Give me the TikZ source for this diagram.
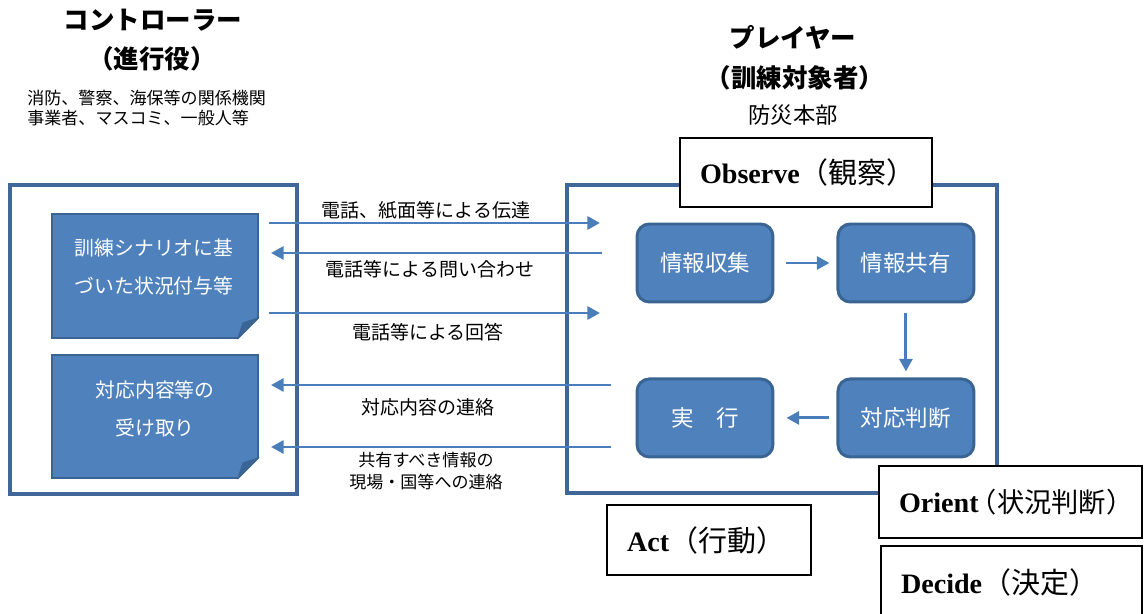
\documentclass[tikz,border=0pt]{standalone}
\usepackage{fontspec}
\setmainfont{Noto Sans CJK JP}
\newfontfamily\tnr{Liberation Serif}
\usetikzlibrary{arrows.meta,positioning}

\definecolor{boxblue}{HTML}{4F81BD}
\definecolor{edgeblue}{HTML}{3A6491}
\definecolor{lineblue}{HTML}{4A7EBB}
\definecolor{frameblue}{HTML}{41679A}
\definecolor{foldblue}{HTML}{3B6596}

\newcommand{\oodatag}[2]{\mbox{{\tnr\bfseries\fontsize{16}{18}\selectfont #1}#2}}

\tikzset{
	frame/.style={draw=frameblue, line width=2.3pt},
	heading/.style={font=\bfseries\fontsize{14.5}{16}\selectfont},
	paper/.style={draw=edgeblue, line width=1.1pt, fill=boxblue},
	papertext/.style={text=white, align=center, font=\fontsize{11.3}{21.5}\selectfont},
	stage/.style={draw=edgeblue, line width=1.7pt, fill=boxblue, rounded corners=7pt,
		minimum width=2.72cm, minimum height=1.56cm, text=white, font=\fontsize{12.8}{14}\selectfont},
	flow/.style={draw=lineblue, line width=1.7pt, -{Triangle[length=7.2pt,width=7.4pt]}},
	msg/.style={align=center, font=\fontsize{10.8}{13}\selectfont},
	tag/.style={draw=black, line width=1.1pt, fill=white, align=left, inner xsep=0.4cm,
		inner ysep=0pt, text width=#1, font=\fontsize{16.5}{18}\selectfont},
}

\begin{document}
\begin{tikzpicture}[x=0.02cm, y=-0.02cm]
	\useasboundingbox (0,0) rectangle (1144,614);
	\clip (0,0) rectangle (1144,614);

	% controller side
	\node[heading] (ctl) at (153,20) {コントローラー};
	\node[heading] (ctlrole) at (152,59) {（進行役）};
	\node[anchor=west, align=left, inner sep=0pt, font=\fontsize{9.7}{11.4}\selectfont] (ctlwho) at (27,108) {消防、警察、海保等の関係機関\\事業者、マスコミ、一般人等};

	\draw[frame] (10,185) rectangle (297,494);

	\draw[paper] (52,214) -- (258,214) -- (258,318) -- (238,338) -- (52,338) -- cycle;
	\draw[draw=edgeblue, line width=0.6pt, fill=foldblue] (238,338) -- (243,323) -- (258,318) -- cycle;
	\node[papertext] (scenario) at (154,267) {訓練シナリオに基\\づいた状況付与等};

	\draw[paper] (52,355) -- (258,355) -- (258,458) -- (238,478) -- (52,478) -- cycle;
	\draw[draw=edgeblue, line width=0.6pt, fill=foldblue] (238,478) -- (243,463) -- (258,458) -- cycle;
	\node[papertext] (receive) at (155,409) {対応内容等の\\受け取り};

	% player side
	\node[heading] (ply) at (793,37) {プレイヤー};
	\node[heading] (plyrole) at (795,78) {（訓練対象者）};
	\node[font=\fontsize{12.7}{14}\selectfont] (hq) at (793,115) {防災本部};

	\draw[frame] (567,185) rectangle (997,493);

	\node[stage] (collect) at (705,263) {情報収集};
	\node[stage, right=1.24cm of collect] (share) {情報共有};
	\node[stage, below=1.48cm of share] (judge) {対応判断};
	\node[stage, left=1.24cm of judge] (act) {実　行};

	\draw[flow, shorten <=0.24cm, shorten >=0.14cm] (collect.east) -- (share.west);
	\draw[flow, shorten <=0.2cm, shorten >=0.12cm] (share.south) -- (judge.north);
	\draw[flow, shorten <=0.14cm, shorten >=0.24cm] (judge.west) -- (act.east);

	% messages between the two sides
	\coordinate (s1) at (269,223);	\coordinate (e1) at (600,223);
	\coordinate (s2) at (602,253);	\coordinate (e2) at (271,253);
	\coordinate (s3) at (269,313);	\coordinate (e3) at (600,313);
	\coordinate (s4) at (611,385);	\coordinate (e4) at (271,385);
	\coordinate (s5) at (611,447);	\coordinate (e5) at (271,447);
	\foreach \i in {1,...,5}{
		\draw[flow] (s\i) -- (e\i);
	}

	\node[msg] (m1) at (426,210) {電話、紙面等による伝達};
	\node[msg] (m2) at (430,269) {電話等による問い合わせ};
	\node[msg] (m3) at (428,332) {電話等による回答};
	\node[msg] (m4) at (428,407) {対応内容の連絡};
	\node[msg, font=\fontsize{9.7}{13}\selectfont] (m5) at (426,471) {共有すべき情報の\\現場・国等への連絡};

	% OODA tags
	\node[tag=4.24cm, minimum height=1.38cm] (observe) at (806,172.5) {\oodatag{Observe}{（観察）}};
	\node[tag=4.46cm, minimum height=1.44cm] (orient) at (1010.5,502) {\oodatag{Orient}{\kern-0.3em{\fontsize{15.5}{18}\selectfont（状況判断）}}};
	\node[tag=4.42cm, minimum height=1.44cm] (decide) at (1011.5,582) {\oodatag{Decide}{（決定）}};
	\node[tag=3.28cm, minimum height=1.4cm] (acttag) at (709,540) {\oodatag{Act}{（行動）}};

\end{tikzpicture}
\end{document}
